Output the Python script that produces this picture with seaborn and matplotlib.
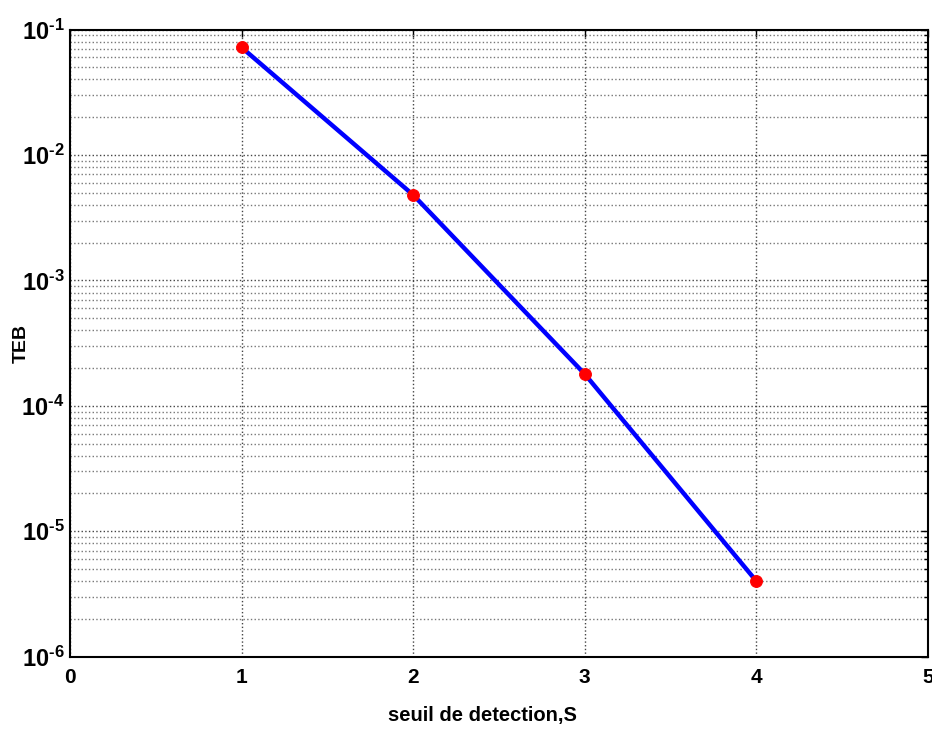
import matplotlib
matplotlib.use("Agg")
import matplotlib.pyplot as plt
import seaborn as sns
import pandas as pd
import numpy as np
from matplotlib.ticker import LogLocator, FixedLocator, NullFormatter

seuil = [1, 2, 3, 4]
teb = [0.072, 0.0048, 1.79e-4, 4.0e-6]
x_ticks = [0, 1, 2, 3, 4, 5]
y_ticks = [1e-6, 1e-5, 1e-4, 1e-3, 1e-2, 1e-1]
y_ticklabels = [r'$\mathbf{10^{\text{-}6}}$', r'$\mathbf{10^{\text{-}5}}$', r'$\mathbf{10^{\text{-}4}}$',
                r'$\mathbf{10^{\text{-}3}}$', r'$\mathbf{10^{\text{-}2}}$', r'$\mathbf{10^{\text{-}1}}$']

sns.set_style("white")
plt.rcParams['font.family'] = ['Liberation Sans', 'DejaVu Sans']
plt.rcParams['mathtext.fontset'] = 'custom'
plt.rcParams['mathtext.bf'] = 'Liberation Sans:bold'
plt.rcParams['mathtext.rm'] = 'Liberation Sans:bold'
plt.rcParams['text.color'] = 'black'
plt.rcParams['axes.labelcolor'] = 'black'
plt.rcParams['xtick.color'] = 'black'
plt.rcParams['ytick.color'] = 'black'

df = pd.DataFrame({"S": seuil, "TEB": teb})

fig = plt.figure(figsize=(9.32, 7.29), dpi=100)
ax = fig.add_axes([0.0751, 0.0992, 0.9206, 0.8603])

sns.lineplot(data=df, x="S", y="TEB", ax=ax, color="#0000ff", linewidth=3.2,
             marker="o", markersize=8.5, markerfacecolor="#ff0000",
             markeredgecolor="#ff0000", zorder=3)

ax.set_yscale("log")
ax.set_xlim(0, 5)
ax.set_ylim(1e-6, 1e-1)
ax.xaxis.set_major_locator(FixedLocator(x_ticks))
ax.set_xticklabels([str(v) for v in x_ticks], fontsize=15, fontweight="bold")
ax.yaxis.set_major_locator(FixedLocator(y_ticks))
ax.set_yticklabels(y_ticklabels, fontsize=17)
ax.yaxis.set_minor_locator(LogLocator(base=10, subs=np.arange(2, 10), numticks=20))
ax.yaxis.set_minor_formatter(NullFormatter())

ax.grid(True, which="major", axis="both", linestyle=":", color="#444444", linewidth=1.0)
ax.grid(True, which="minor", axis="y", linestyle=":", color="#777777", linewidth=1.0)

ax.tick_params(which="both", direction="in", top=True, right=True, length=5, width=1, color="black")
ax.tick_params(which="minor", length=3)
ax.tick_params(axis="x", pad=8)
ax.tick_params(axis="y", pad=4)

for sp in ax.spines.values():
    sp.set_visible(True)
    sp.set_color("black")
    sp.set_linewidth(1.5)

ax.set_xlabel("seuil de detection,S", fontsize=14.5, fontweight="bold")
ax.xaxis.set_label_coords(0.481, -0.078)
ax.set_ylabel("TEB", fontsize=14, fontweight="bold")
ax.yaxis.set_label_coords(-0.047, 0.5)

fig.savefig("out.png", dpi=100)
